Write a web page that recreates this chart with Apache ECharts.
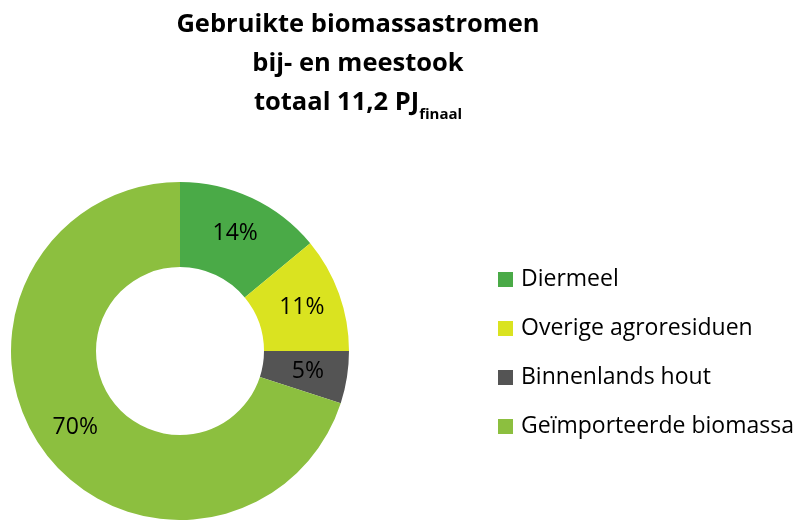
<!DOCTYPE html>
<html>
<head>
<meta charset="utf-8">
<script src="https://cdn.jsdelivr.net/npm/echarts@6/dist/echarts.min.js"></script>
<style>
  html, body { margin: 0; padding: 0; background: #fff; }
  #main { width: 806px; height: 520px; }
</style>
</head>
<body>
<div id="main"></div>
<script>
// categories and shares (%)
var categories = ['Diermeel', 'Overige agroresiduen', 'Binnenlands hout', 'Geïmporteerde biomassa'];
var shares = [14, 11, 5, 70];
var colors = ['#4aaa47', '#dae320', '#545454', '#8cbf3f'];

var chart = echarts.init(document.getElementById('main'));

var option = {
  animation: false,
  color: colors,
  title: {
    text: 'Gebruikte biomassastromen\nbij- en meestook\ntotaal 11,2 PJ{sub|finaal}',
    left: 353,
    top: 0,
    textAlign: 'center',
    textStyle: {
      fontFamily: 'Open Sans',
      fontWeight: 'bold',
      fontSize: 25.5,
      lineHeight: 39,
      color: '#000',
      rich: {
        sub: {
          fontFamily: 'Open Sans',
          fontWeight: 'bold',
          fontSize: 15,
          verticalAlign: 'bottom',
          padding: [14, 0, 0, 0],
          color: '#000'
        }
      }
    }
  },
  legend: {
    orient: 'vertical',
    left: 493,
    top: 262,
    icon: 'rect',
    itemWidth: 15,
    itemHeight: 15,
    itemGap: 24,
    textStyle: {
      fontFamily: 'Open Sans',
      fontSize: 23,
      lineHeight: 25,
      color: '#000',
      padding: [0, 0, 0, 3]
    },
    data: categories
  },
  series: [{
    type: 'pie',
    center: [180, 351],
    radius: [84, 169],
    startAngle: 90,
    clockwise: true,
    avoidLabelOverlap: false,
    label: {
      show: true,
      position: 'inside',
      formatter: '{c}%',
      fontFamily: 'Open Sans',
      fontSize: 23,
      color: '#000'
    },
    labelLine: { show: false },
    itemStyle: { borderColor: '#fff', borderWidth: 0 },
    emphasis: { disabled: true },
    data: categories.map(function (name, i) {
      return { name: name, value: shares[i] };
    })
  }]
};

chart.setOption(option);
</script>
</body>
</html>
